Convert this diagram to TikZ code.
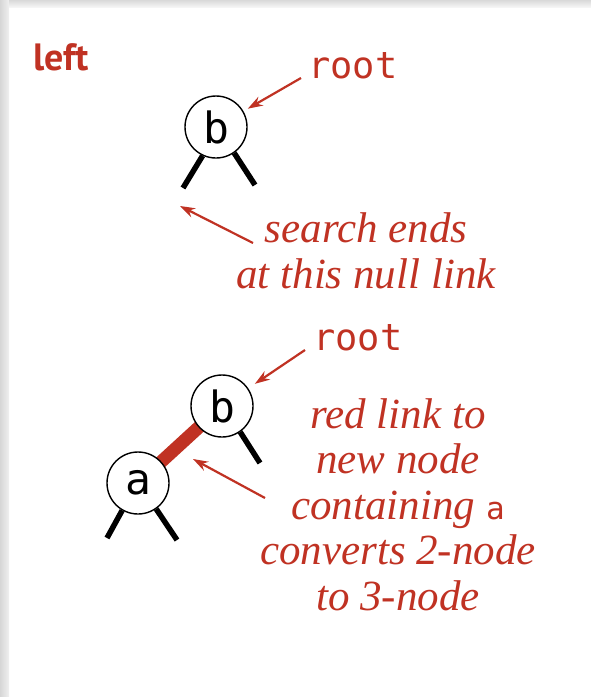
\documentclass[tikz,border=0pt]{standalone}
\usepackage{fontspec}
\setmainfont{Liberation Serif}
\setsansfont{PT Sans}
\setmonofont{DejaVu Sans Mono}
\usetikzlibrary{arrows.meta,backgrounds}

\definecolor{bookred}{RGB}{192,50,35}

\begin{document}
\begin{tikzpicture}[x=1pt, y=-1pt,
    tnode/.style={draw, circle, line width=1.4pt, fill=white, minimum size=62pt, inner sep=0pt,
        font=\fontsize{43}{50}\selectfont\ttfamily},
    nulllink/.style={line width=5.5pt},
    redlink/.style={line width=13pt, draw=bookred},
    pointer/.style={draw=bookred, line width=2.2pt, -{Stealth[length=15pt,width=10pt]}},
    note/.style={text=bookred, align=center, inner sep=0pt,
        font=\fontsize{43}{45.5}\selectfont\itshape},
    rootlabel/.style={text=bookred, inner sep=0pt, font=\fontsize{37}{40}\selectfont\ttfamily}]
    \useasboundingbox (0,0) rectangle (591,697);

    % page and its shadow
    \begin{scope}[on background layer]
        \fill[white] (0,0) rectangle (591,697);
        \shade[left color=gray!32, right color=gray!12] (0,0) rectangle (9,697);
        \shade[top color=gray!30, bottom color=gray!8] (9,0) rectangle (591,7);
    \end{scope}

    \node[text=bookred, inner sep=0pt, anchor=base west,
        font=\fontsize{38}{40}\selectfont\sffamily\bfseries] (title) at (33,70) {left};

    % search for a in the tree holding only b
    \node[tnode] (b1) at (216,127) {b};
    \coordinate (b1l) at (183,188);
    \coordinate (b1r) at (255,185);
    \draw[nulllink] (b1.245) -- (b1l);
    \draw[nulllink] (b1.305) -- (b1r);

    \node[rootlabel, anchor=base west] (root1) at (308,78) {root};
    \draw[pointer, shorten >=5pt] ([xshift=-7pt]root1.base west) -- (b1);

    % anchor base = baseline of the last line
    \node[note, anchor=base] (search) at (366,288) {search ends\\at this null link};
    \coordinate (searchtail) at (253,243);
    \coordinate (searchtip) at (180,206);
    \draw[pointer] (searchtail) -- (searchtip);

    % after the insertion
    \node[tnode] (b2) at (222,406) {b};
    \node[tnode] (a2) at (138,483) {a};
    \begin{scope}[on background layer]
        \draw[redlink] (a2.center) -- (b2.center);
    \end{scope}
    \coordinate (b2r) at (260,463);
    \coordinate (a2l) at (107,538);
    \coordinate (a2r) at (177,540);
    \draw[nulllink] (b2.305) -- (b2r);
    \draw[nulllink] (a2.240) -- (a2l);
    \draw[nulllink] (a2.305) -- (a2r);

    \node[rootlabel, anchor=base west] (root2) at (313,350) {root};
    \draw[pointer, shorten >=8pt] ([xshift=-8pt]root2.base west) -- (b2);

    \node[note, anchor=base] (convert) at (398,610)
        {red link to\\new node\\containing {\upshape\fontsize{31}{31}\selectfont\ttfamily a}\\converts 2-node\\to 3-node};
    \coordinate (converttail) at (265,498);
    \coordinate (converttip) at (193,459);
    \draw[pointer] (converttail) -- (converttip);
\end{tikzpicture}
\end{document}
